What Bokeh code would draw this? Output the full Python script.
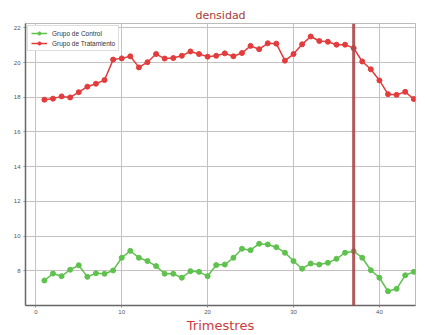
from bokeh.plotting import figure
from bokeh.models import Span, Legend, LegendItem, Range1d, FixedTicker
from bokeh.embed import file_html
from bokeh.resources import INLINE

trimestres = list(range(1, 45))
tratamiento = [17.86, 17.92, 18.05, 17.99, 18.29, 18.61, 18.78, 18.99, 20.17, 20.24,
               20.36, 19.72, 20.02, 20.49, 20.23, 20.26, 20.39, 20.64, 20.49, 20.34,
               20.39, 20.53, 20.36, 20.55, 20.96, 20.77, 21.11, 21.09, 20.11, 20.49,
               21.05, 21.50, 21.24, 21.20, 21.03, 21.03, 20.83, 20.06, 19.61, 18.97,
               18.18, 18.14, 18.31, 17.90]
control = [7.44, 7.84, 7.69, 8.06, 8.32, 7.65, 7.86, 7.83, 8.02, 8.75,
           9.15, 8.75, 8.56, 8.27, 7.83, 7.83, 7.60, 7.98, 7.94, 7.69,
           8.33, 8.36, 8.75, 9.27, 9.19, 9.56, 9.52, 9.36, 9.04, 8.56,
           8.12, 8.42, 8.36, 8.46, 8.69, 9.04, 9.13, 8.75, 8.03, 7.60,
           6.82, 6.96, 7.74, 7.94]
x_ticks = [0, 10, 20, 30, 40]
y_ticks = [8, 10, 12, 14, 16, 18, 20, 22]
corte = 37

RED = "#e23c3c"
GREEN = "#5fc24e"

p = figure(frame_width=390, frame_height=282, output_backend="svg", toolbar_location=None,
           x_range=Range1d(-1.2, 44.2), y_range=Range1d(6.0, 22.25),
           min_border_left=25, min_border_right=2, min_border_top=23, min_border_bottom=0)

p.title.text = "densidad"
p.title.align = "center"
p.title.text_color = "#a83a3a"
p.title.text_font = "DejaVu Sans"
p.title.text_font_size = "11px"
p.title.text_font_style = "normal"
p.title.standoff = 3

gl = p.line(trimestres, control, color=GREEN, line_width=1.5)
gm = p.scatter(trimestres, control, color=GREEN, size=5)
rl = p.line(trimestres, tratamiento, color=RED, line_width=1.5)
rm = p.scatter(trimestres, tratamiento, color=RED, size=5)

p.add_layout(Span(location=corte, dimension="height", line_color="#a84848",
                  line_width=3, line_alpha=0.9))

p.xaxis.ticker = FixedTicker(ticks=x_ticks)
p.yaxis.ticker = FixedTicker(ticks=y_ticks)
for ax in (p.xaxis, p.yaxis):
    ax.major_label_text_font_size = "6px"
    ax.major_label_text_color = "#555555"
    ax.axis_line_color = "#666666"
    ax.axis_line_width = 1.5
    ax.major_tick_line_color = "#888888"
    ax.major_tick_in = 0
    ax.major_tick_out = 2
    ax.minor_tick_line_color = None
    ax.major_label_standoff = 3
p.xaxis.major_label_standoff = 2
p.xaxis.axis_label = "Trimestres"
p.xaxis.axis_label_text_color = "#cc3b3b"
p.xaxis.axis_label_text_font = "DejaVu Sans"
p.xaxis.axis_label_text_font_size = "13px"
p.xaxis.axis_label_text_font_style = "normal"
p.xaxis.axis_label_standoff = 1

p.grid.grid_line_color = "#c8c0c0"
p.grid.grid_line_width = 1
p.outline_line_color = "#bbbbbb"
p.background_fill_color = "white"

legend = Legend(items=[LegendItem(label="Grupo de Control", renderers=[gl, gm]),
                       LegendItem(label="Grupo de Tratamiento", renderers=[rl, rm])],
                location="top_left")
legend.label_text_font_size = "6.5px"
legend.label_text_color = "#333333"
legend.glyph_width = 16
legend.glyph_height = 8
legend.label_height = 8
legend.label_standoff = 5
legend.spacing = 2
legend.padding = 3
legend.margin = 2
legend.border_line_color = "#bbbbbb"
legend.background_fill_alpha = 1
p.add_layout(legend)

open("out.html", "w").write(file_html(p, INLINE))
